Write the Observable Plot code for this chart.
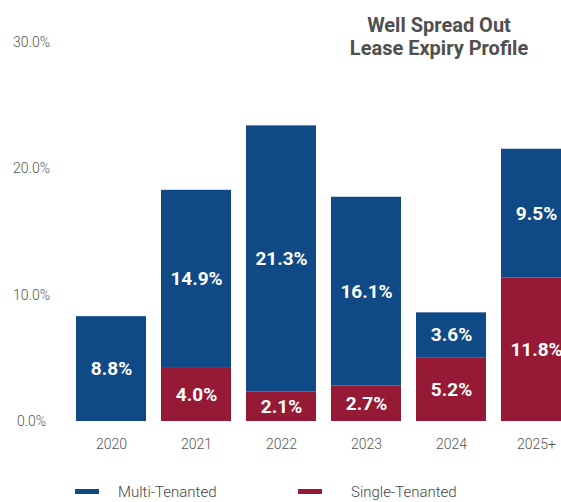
<!DOCTYPE html>
<html>
<head>
<meta charset="utf-8">
<script src="https://cdn.jsdelivr.net/npm/d3@7"></script>
<script src="https://cdn.jsdelivr.net/npm/@observablehq/plot@0.6"></script>
<style>
  html, body { margin: 0; padding: 0; background: #fff; overflow: hidden; }
  #wrap { position: relative; width: 561px; height: 502px; overflow: hidden; font-family: Roboto, sans-serif; }
  #title { position: absolute; left: 339px; width: 200px; top: 13.6px; text-align: center;
           font-weight: 700; font-size: 20px; line-height: 23px; color: #4f4f4f; }
  #legend { position: absolute; left: 0; top: 470px; width: 561px; height: 32px; }
  .sw { position: absolute; width: 24px; height: 5px; top: 19px; }
  .lt { position: absolute; top: 15.4px; font-size: 15px; line-height: 15px; color: #444; font-weight: 300; white-space: nowrap; }
</style>
</head>
<body>
<div id="wrap">
  <div id="chart"></div>
  <div id="title">Well Spread Out<br>Lease Expiry Profile</div>
  <div id="legend"></div>
</div>
<script>
// ---- data ----
const years = ["2020", "2021", "2022", "2023", "2024", "2025+"];
const seriesNames = ["Multi-Tenanted", "Single-Tenanted"];
const seriesColors = ["#0f4a87", "#961a35"];
// bar segment heights as drawn in the reference (% of total)
const multiTenanted = [8.3, 14.1, 21.05, 14.95, 3.55, 10.2];
const singleTenanted = [0, 4.2, 2.35, 2.8, 5.05, 11.35];
// printed labels
const multiLabels = ["8.8%", "14.9%", "21.3%", "16.1%", "3.6%", "9.5%"];
const singleLabels = ["", "4.0%", "2.1%", "2.7%", "5.2%", "11.8%"];
const yTicks = [0, 10, 20, 30];

// ---- table ----
const rows = [];
years.forEach((y, i) => {
  rows.push({year: y, type: seriesNames[1], value: singleTenanted[i], label: singleLabels[i]});
  rows.push({year: y, type: seriesNames[0], value: multiTenanted[i], label: multiLabels[i]});
});
const drawn = rows.filter(d => d.value > 0);

const plot = Plot.plot({
  width: 561,
  height: 470,
  marginTop: 42,
  marginBottom: 49,
  marginLeft: 58,
  marginRight: 0,
  style: {fontFamily: "Roboto, sans-serif", color: "#555", overflow: "hidden", background: "#fff"},
  x: {type: "band", domain: years, range: [58.6, 587.6], padding: 0.18, label: null},
  y: {domain: [0, 30], label: null},
  color: {domain: seriesNames, range: seriesColors},
  marks: [
    Plot.barY(drawn, Plot.stackY({x: "year", y: "value", z: "type", fill: "type", order: null})),
    Plot.text(drawn, Plot.stackY({x: "year", y: "value", z: "type", text: "label", order: null,
      fill: "white", fontWeight: "bold", fontSize: 19, fontFamily: "Roboto, sans-serif"})),
    Plot.axisY({ticks: yTicks, tickFormat: d => d.toFixed(1) + "%", tickSize: 0, tickPadding: 27,
      textAnchor: "middle", fontSize: 14, fontWeight: 300, label: null}),
    Plot.axisX({tickSize: 0, tickPadding: 18, fontSize: 14, fontWeight: 300, label: null})
  ]
});
document.getElementById("chart").appendChild(plot);

// ---- legend ----
const legend = document.getElementById("legend");
const swX = [75, 298];
const txX = [118, 351];
seriesNames.forEach((name, i) => {
  const sw = document.createElement("div");
  sw.className = "sw";
  sw.style.left = swX[i] + "px";
  sw.style.background = seriesColors[i];
  legend.appendChild(sw);
  const t = document.createElement("div");
  t.className = "lt";
  t.style.left = txX[i] + "px";
  t.textContent = name;
  legend.appendChild(t);
});
</script>
</body>
</html>
